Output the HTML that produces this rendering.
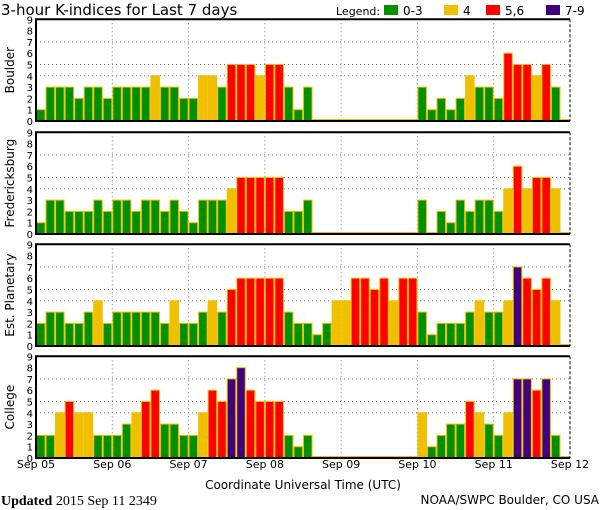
<!DOCTYPE html>
<html><head><meta charset="utf-8"><style>
html,body{margin:0;padding:0;background:#fff;}
svg{display:block;font-family:"DejaVu Sans","Liberation Sans",sans-serif;}
</style></head><body>
<svg id="c" width="600" height="510"></svg>
<script>
const stations = ["Boulder","Fredericksburg","Est. Planetary","College"];
const boulder = [1,3,3,3,2,3,3,2, 3,3,3,3,4,3,3,2, 2,4,4,3,5,5,5,4, 5,5,3,1,3,0,0,0, 0,0,0,0,0,0,0,0, 3,1,2,1,2,4,3,3, 2,6,5,5,4,5,3,0];
const fredericksburg = [1,3,3,2,2,2,3,2, 3,3,2,3,3,2,3,2, 1,3,3,3,4,5,5,5, 5,5,2,2,3,0,0,0, 0,0,0,0,0,0,0,0, 3,0,2,1,3,2,3,3, 2,4,6,4,5,5,4,0];
const planetary = [2,3,3,2,2,3,4,2, 3,3,3,3,3,2,4,2, 2,3,4,3,5,6,6,6, 6,6,3,2,2,1,2,4, 4,6,6,5,6,4,6,6, 3,1,2,2,2,3,4,3, 3,4,7,6,5,6,4,0];
const college = [2,2,4,5,4,4,2,2, 2,3,4,5,6,3,3,2, 2,4,6,5,7,8,6,5, 5,5,2,1,2,0,0,0, 0,0,0,0,0,0,0,0, 4,1,2,3,3,5,4,3, 2,4,7,7,6,7,2,0];
const dayLabels = ["Sep 05","Sep 06","Sep 07","Sep 08","Sep 09","Sep 10","Sep 11","Sep 12"];
const yTicks = [0,1,2,3,4,5,6,7,8,9];
</script>
<script>
const NS="http://www.w3.org/2000/svg";
const svg=document.getElementById('c');
function mk(tag,attrs,parent){const e=document.createElementNS(NS,tag);for(const k in attrs)e.setAttribute(k,attrs[k]);(parent||svg).appendChild(e);return e;}
const X0=36,X1=570,N=56;
const bw=(X1-X0)/N;
const xs=i=>X0+i*bw;
const panels=[{top:19.3,bot:121},{top:132.3,bot:234},{top:244.3,bot:346},{top:356.3,bot:458}];
const series=[boulder,fredericksburg,planetary,college];
const names=['boulder','fredericksburg','est-planetary','college'];
function color(v){return v<=3?'#009000':v==4?'#f0c000':v<=6?'#ff0000':'#400080';}

let t=mk('text',{x:1,y:15,'font-size':15,fill:'#000'});t.textContent='3-hour K-indices for Last 7 days';

const lg=mk('g',{});

let lt=mk('text',{x:336,y:15,'font-size':11},lg);lt.textContent='Legend:';
const legItems=[['0-3','#009000',384],['4','#f0c000',444],['5,6','#ff0000',486],['7-9','#400080',546]];
legItems.forEach(([lab,c,x])=>{
  const r=mk('rect',{x:x,y:5,width:14,height:10,fill:c},lg);
  
  const tt=mk('text',{x:x+19,y:15,'font-size':12},lg);tt.textContent=lab;
  
});

panels.forEach((p,pi)=>{
  const g=mk('g',{});
  
  const unit=(p.bot-p.top)/9;
  const ys=v=>p.bot-v*unit;
  [4,5,7].forEach(v=>{const l=mk('line',{x1:X0,x2:X1,y1:ys(v),y2:ys(v),stroke:'#777','stroke-dasharray':'1,3'},g);
    });
  for(let d=1;d<7;d++){const x=xs(d*8);const l=mk('line',{x1:x,x2:x,y1:p.top,y2:p.bot,stroke:'#777','stroke-dasharray':'1,3'},g);
    }
  series[pi].forEach((v,i)=>{
    const h=v===0?1.5:v*unit;
    const r=mk('rect',{x:xs(i)+0.5,y:p.bot-h,width:bw-1,height:h,fill:color(v),stroke:'#f0c000','stroke-width':1},g);
    
  });
  mk('path',{d:`M${X1},${p.top}H${X0}V${p.bot}H${X1}`,fill:'none',stroke:'#000','stroke-width':2},g);
  mk('line',{x1:X1,x2:X1,y1:p.top,y2:p.bot,stroke:'#000','stroke-dasharray':'3,2'},g);
  yTicks.forEach(v=>{const tt=mk('text',{x:33,y:ys(v)+4,'font-size':10,'text-anchor':'end'},g);tt.textContent=v;
    });
  const cy=(p.top+p.bot)/2;
  const yl=mk('text',{x:14,y:cy,'font-size':12,'text-anchor':'middle',transform:`rotate(-90 14 ${cy})`},g);
  yl.textContent=stations[pi];
  
});
dayLabels.forEach((d,i)=>{const tt=mk('text',{x:xs(i*8),y:468,'font-size':11,'text-anchor':'middle'});tt.textContent=d;
  });
let xt=mk('text',{x:303,y:489,'font-size':12,'text-anchor':'middle'});xt.textContent='Coordinate Universal Time (UTC)';

let up=mk('text',{x:1,y:505,'font-size':14,'font-family':'Liberation Serif, serif'});
up.innerHTML='<tspan font-weight="bold">Updated</tspan> 2015 Sep 11 2349';

let src=mk('text',{x:599,y:504,'font-size':12,'text-anchor':'end'});src.textContent='NOAA/SWPC Boulder, CO USA';

</script>
</body></html>
